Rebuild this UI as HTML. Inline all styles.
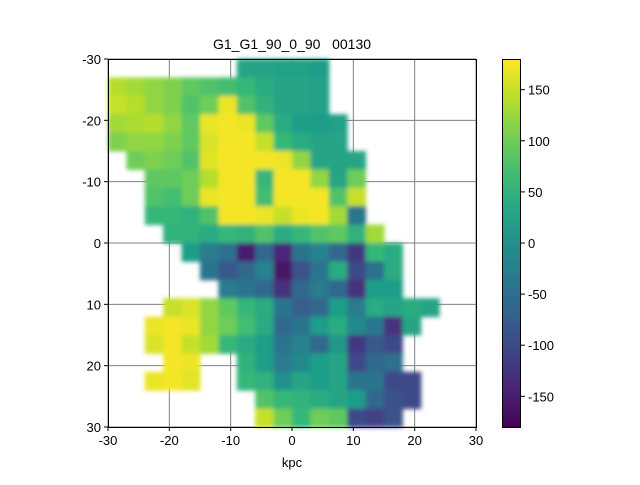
<!DOCTYPE html>
<html><head><meta charset="utf-8"><style>
body{margin:0;background:#fff;}
svg text{font-family:"Liberation Sans",sans-serif;font-size:13px;fill:#000;}
</style></head><body>
<svg id="fig" width="640" height="480" xmlns="http://www.w3.org/2000/svg">
<defs><linearGradient id="cb" x1="0" y1="1" x2="0" y2="0"></linearGradient>
<filter id="soft" x="-5%" y="-5%" width="110%" height="110%"><feGaussianBlur stdDeviation="2"/></filter></defs>
<text x="292" y="49" text-anchor="middle" style="font-size:14px;white-space:pre" xml:space="preserve">G1_G1_90_0_90   00130</text>
<g id="grid"></g>
<g id="cells" filter="url(#soft)"></g>
<rect x="108.5" y="59.5" width="368" height="368" fill="none" stroke="#000" stroke-width="1"/>
<g id="ticks"></g>
<text x="292" y="467" text-anchor="middle">kpc</text>
<rect x="502.5" y="59.5" width="18" height="368" fill="url(#cb)" stroke="#000" stroke-width="1"/>
<g id="cbticks"></g>
</svg>
<script>
const xTicks=[-30,-20,-10,0,10,20,30];
const yTicks=[-30,-20,-10,0,10,20,30];
const cbTicks=[150,100,50,0,-50,-100,-150];
const cellSize=3; // kpc
const N=null;
const gridVals=[
[N,N,N,N,N,N,N,30,30,25,25,20,N,N,N,N,N,N,N,N],
[140,130,120,110,90,80,70,60,40,30,30,25,N,N,N,N,N,N,N,N],
[150,140,120,110,80,100,170,80,50,30,30,25,N,N,N,N,N,N,N,N],
[130,135,140,120,90,170,175,170,90,40,20,20,25,N,N,N,N,N,N,N],
[110,120,120,110,90,160,175,175,150,60,40,30,30,N,N,N,N,N,N,N],
[N,100,110,100,80,165,175,175,175,170,120,30,30,30,N,N,N,N,N,N],
[N,N,90,90,100,140,175,175,60,175,175,120,30,100,N,N,N,N,N,N],
[N,N,80,70,100,170,175,175,70,175,175,175,80,150,N,N,N,N,N,N],
[N,N,60,60,50,80,175,175,170,150,170,175,130,-40,N,N,N,N,N,N],
[N,N,N,50,50,40,60,50,80,40,60,80,90,50,130,N,N,N,N,N],
[N,N,N,N,20,-30,-50,-150,-60,-140,-40,-20,-60,-120,60,40,N,N,N,N],
[N,N,N,N,N,-40,-80,-60,-20,-160,-90,-40,40,-100,-50,40,N,N,N,N],
[N,N,N,N,N,N,-30,-40,-60,-130,-60,-30,-60,-130,20,20,N,N,N,N],
[N,N,N,150,160,120,90,60,40,-40,-70,-60,20,-30,40,30,40,30,N,N],
[N,N,170,175,170,120,100,70,40,-60,-40,20,40,-10,-40,-130,30,N,N,N],
[N,N,160,175,150,130,60,40,20,-40,-20,-60,10,-120,-80,-100,N,N,N,N],
[N,N,N,175,170,N,N,50,20,-30,-10,20,30,-100,-60,-50,N,N,N,N],
[N,N,170,175,165,N,N,60,50,0,30,20,30,-40,-40,-100,-100,N,N,N],
[N,N,N,N,N,N,N,N,80,60,50,40,30,20,-60,-90,-100,N,N,N],
[N,N,N,N,N,N,N,N,150,100,60,100,90,-100,-110,-90,N,N,N,N]
];
const vmin=-180,vmax=180;
const X0=108,X1=476,Y0=59,Y1=427;
const sx=v=>X0+(v+30)/60*(X1-X0);
const sy=v=>Y0+(v+30)/60*(Y1-Y0);
const cy=v=>Y1-(v-vmin)/(vmax-vmin)*(Y1-Y0);
const vir=[[68,1,84],[72,40,120],[62,74,137],[49,104,142],[38,130,142],[31,158,137],[53,183,121],[109,205,89],[180,222,44],[253,231,37]];
function color(v){let t=Math.max(0,Math.min(1,(v-vmin)/(vmax-vmin)))*(vir.length-1);let i=Math.min(Math.floor(t),vir.length-2),f=t-i;const c=vir[i].map((a,k)=>Math.round(a+(vir[i+1][k]-a)*f));return `rgb(${c})`;}
const NS="http://www.w3.org/2000/svg";
function mk(tag,attrs,parent){const e=document.createElementNS(NS,tag);for(const k in attrs)e.setAttribute(k,attrs[k]);parent.appendChild(e);return e;}
const grid=document.getElementById('grid');
xTicks.forEach(t=>{const l=mk('line',{x1:sx(t),x2:sx(t),y1:Y0,y2:Y1,stroke:'#808080','stroke-width':1},grid);

});
yTicks.forEach(t=>{const l=mk('line',{x1:X0,x2:X1,y1:sy(t),y2:sy(t),stroke:'#808080','stroke-width':1},grid);

});
const cells=document.getElementById('cells');
gridVals.forEach((row,j)=>row.forEach((v,i)=>{if(v===null)return;
const x=-30+i*cellSize,y=-30+j*cellSize;
const r=mk('rect',{x:sx(x),y:sy(y),width:sx(x+cellSize)-sx(x)+0.5,height:sy(y+cellSize)-sy(y)+0.5,fill:color(v)},cells);

}));
const ticks=document.getElementById('ticks');
xTicks.forEach(t=>{mk('line',{x1:sx(t),x2:sx(t),y1:Y1,y2:Y1+4,stroke:'#000'},ticks);
const tx=mk('text',{x:sx(t),y:Y1+18,'text-anchor':'middle'},ticks);tx.textContent=t;

});
yTicks.forEach(t=>{mk('line',{x1:X0-4,x2:X0,y1:sy(t),y2:sy(t),stroke:'#000'},ticks);
const tx=mk('text',{x:X0-7,y:sy(t)+5,'text-anchor':'end'},ticks);tx.textContent=t;

});
const g=document.getElementById('cb');
for(let k=0;k<=10;k++){mk('stop',{offset:k/10,'stop-color':color(vmin+k/10*(vmax-vmin))},g);}
const cbt=document.getElementById('cbticks');
cbTicks.forEach(t=>{mk('line',{x1:521,x2:525,y1:cy(t),y2:cy(t),stroke:'#000'},cbt);
const tx=mk('text',{x:528,y:cy(t)+5},cbt);tx.textContent=t;

});
</script>
</body></html>
